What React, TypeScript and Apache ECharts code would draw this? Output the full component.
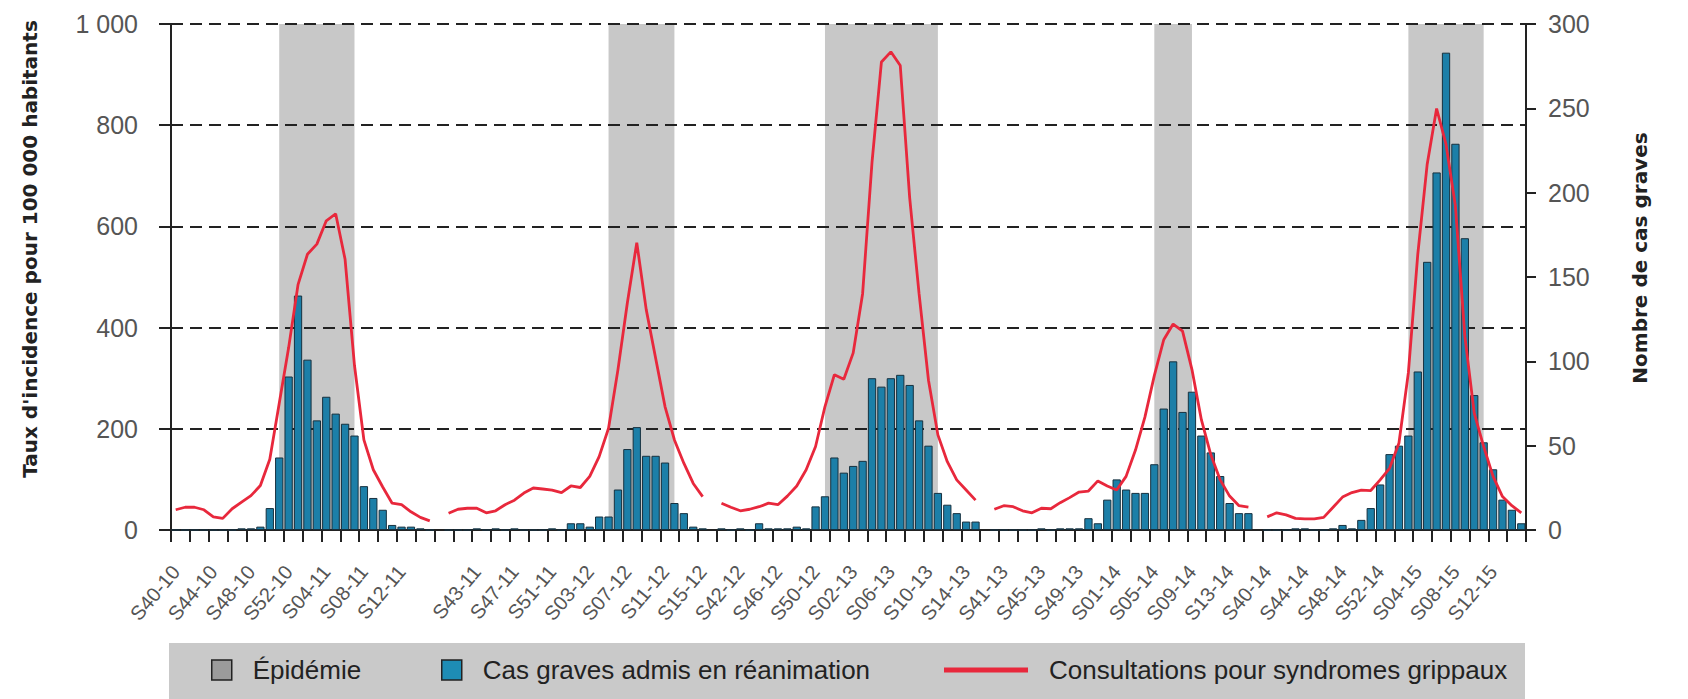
import React, { useEffect, useRef } from 'react';
import * as echarts from 'echarts';

// Weeks of each winter season (S40 of year N to S15 of year N+1)
const WEEKS = [40, 41, 42, 43, 44, 45, 46, 47, 48, 49, 50, 51, 52, 1, 2, 3, 4, 5, 6, 7, 8, 9, 10, 11, 12, 13, 14, 15];
const SEASON_YEARS = [10, 11, 12, 13, 14];

// Cas graves admis en réanimation (right axis)
const cas2010 = [0, 0, 0, 0, 0, 0, 0, 1, 1, 2, 13, 43, 91, 139, 101, 65, 79, 69, 63, 56, 26, 19, 12, 3, 2, 2, 1, 0];
const cas2011 = [0, 0, 0, 1, 0, 1, 0, 1, 0, 0, 0, 1, 0, 4, 4, 2, 8, 8, 24, 48, 61, 44, 44, 40, 16, 10, 2, 1];
const cas2012 = [1, 0, 1, 0, 4, 1, 1, 1, 2, 1, 14, 20, 43, 34, 38, 41, 90, 85, 90, 92, 86, 65, 50, 22, 15, 10, 5, 5];
const cas2013 = [0, 0, 0, 0, 0, 1, 0, 1, 1, 1, 7, 4, 18, 30, 24, 22, 22, 39, 72, 100, 70, 82, 56, 46, 32, 16, 10, 10];
const cas2014 = [0, 0, 0, 1, 1, 0, 0, 1, 3, 1, 6, 13, 27, 45, 50, 56, 94, 159, 212, 283, 229, 173, 80, 52, 36, 18, 12, 4];

// Consultations pour syndromes grippaux, taux pour 100 000 habitants (left axis)
const consult2010 = [40, 45, 45, 40, 26, 23, 42, 55, 68, 88, 140, 250, 360, 485, 545, 565, 611, 625, 535, 325, 178, 119, 85, 53, 50, 36, 25, 18];
const consult2011 = [33, 41, 43, 43, 34, 38, 50, 59, 73, 83, 81, 79, 74, 87, 84, 106, 145, 201, 317, 449, 568, 436, 340, 244, 178, 132, 92, 66];
const consult2012 = [53, 45, 38, 41, 46, 53, 50, 67, 87, 119, 165, 244, 307, 298, 350, 467, 727, 925, 945, 918, 657, 467, 296, 188, 135, 99, 79, 59];
const consult2013 = [41, 48, 46, 38, 34, 43, 42, 54, 64, 75, 77, 97, 87, 79, 106, 158, 223, 305, 376, 407, 393, 317, 218, 149, 99, 67, 48, 45];
const consult2014 = [26, 34, 30, 23, 22, 22, 25, 45, 65, 74, 79, 78, 99, 122, 172, 311, 545, 723, 833, 762, 640, 383, 231, 165, 106, 66, 48, 34];

// Périodes d'épidémie (début, fin)
const epidemicStart = ['S51-10', 'S05-12', 'S51-12', 'S05-14', 'S03-15'];
const epidemicEnd = ['S07-11', 'S12-12', 'S11-13', 'S09-14', 'S11-15'];

const casSeasons = [cas2010, cas2011, cas2012, cas2013, cas2014];
const consultSeasons = [consult2010, consult2011, consult2012, consult2013, consult2014];

const SANS = "'Liberation Sans', Arial, sans-serif";
const TITLE_FONT = "'DejaVu Sans', 'Liberation Sans', sans-serif";

const categories: string[] = [];
const casData: (number | null)[] = [];
const consultData: (number | null)[] = [];
SEASON_YEARS.forEach((y, k) => {
  WEEKS.forEach((w, j) => {
    const yy = w >= 40 ? y : y + 1;
    categories.push(`S${String(w).padStart(2, '0')}-${yy}`);
    casData.push(casSeasons[k][j]);
    consultData.push(consultSeasons[k][j]);
  });
  if (k < SEASON_YEARS.length - 1) {
    categories.push(' '.repeat(k + 1));
    casData.push(null);
    consultData.push(null);
  }
});

const RED = '#e8283c';
const LEGEND_TEXT = { fontFamily: SANS, fontSize: 26, color: '#222', padding: [0, 0, 0, 16] };

export default function App() {
  const ref = useRef<HTMLDivElement>(null);
  useEffect(() => {
    document.body.style.margin = '0';
    if (!ref.current) return;
    const chart = echarts.init(ref.current, null, { renderer: 'svg' });
    const fmt = (v: number) => String(v).replace(/\B(?=(\d{3})+(?!\d))/g, ' ');
    chart.setOption({
      animation: false,
      backgroundColor: '#ffffff',
      grid: { left: 171, right: 162, top: 24, bottom: 169, containLabel: false, outerBoundsMode: 'none' },
      graphic: [
        {
          type: 'rect',
          silent: true,
          z: 0,
          shape: { x: 169, y: 643, width: 1356, height: 56 },
          style: { fill: '#c9c9c9' },
        },
      ],
      legend: [
        {
          left: 206,
          top: 652,
          itemWidth: 20,
          itemHeight: 20,
          selectedMode: false,
          textStyle: LEGEND_TEXT,
          data: [{ name: 'Épidémie', icon: 'rect', itemStyle: { color: '#9b9b9b', borderColor: '#222', borderWidth: 1.5 } }],
        },
        {
          left: 436,
          top: 652,
          itemWidth: 20,
          itemHeight: 20,
          selectedMode: false,
          textStyle: LEGEND_TEXT,
          data: [
            {
              name: 'Cas graves admis en réanimation',
              icon: 'rect',
              itemStyle: { color: '#1e8db5', borderColor: '#222', borderWidth: 1.5 },
            },
          ],
        },
        {
          left: 939,
          top: 652,
          itemWidth: 84,
          itemHeight: 5,
          selectedMode: false,
          textStyle: LEGEND_TEXT,
          data: [{ name: 'Consultations pour syndromes grippaux', icon: 'rect', itemStyle: { color: RED } }],
        },
      ],
      xAxis: {
        type: 'category',
        data: categories,
        boundaryGap: true,
        z: 2,
        axisLine: { show: true, lineStyle: { color: '#222', width: 2 } },
        axisTick: { show: true, interval: 1, length: 12, lineStyle: { color: '#222', width: 2 } },
        axisLabel: {
          interval: 3,
          rotate: 50,
          margin: 38,
          color: '#555',
          fontFamily: SANS,
          fontSize: 20,
        },
        splitLine: { show: false },
      },
      yAxis: [
        {
          type: 'value',
          position: 'left',
          min: 0,
          max: 1000,
          interval: 200,
          z: 2,
          name: "Taux d'incidence pour 100 000 habitants",
          nameLocation: 'middle',
          nameRotate: 90,
          nameGap: 131,
          nameTextStyle: {
            fontFamily: TITLE_FONT,
            fontWeight: 'bold',
            fontSize: 20,
            color: '#222',
            padding: [0, 0, 0, 56],
          },
          axisLine: { show: true, lineStyle: { color: '#222', width: 2 } },
          axisTick: { show: true, length: 12, lineStyle: { color: '#222', width: 2 } },
          axisLabel: { margin: 33, color: '#555', fontFamily: SANS, fontSize: 25, formatter: fmt },
          splitLine: { show: true, lineStyle: { type: [12, 7], color: '#222', width: 2 } },
        },
        {
          type: 'value',
          position: 'right',
          min: 0,
          max: 300,
          interval: 50,
          z: 2,
          name: 'Nombre de cas graves',
          nameLocation: 'middle',
          nameRotate: 90,
          nameGap: 104,
          nameTextStyle: {
            fontFamily: TITLE_FONT,
            fontWeight: 'bold',
            fontSize: 20,
            color: '#222',
            padding: [0, 0, 0, 38],
          },
          axisLine: { show: true, lineStyle: { color: '#222', width: 2 } },
          axisTick: { show: true, length: 10, lineStyle: { color: '#222', width: 2 } },
          axisLabel: { margin: 22, color: '#555', fontFamily: SANS, fontSize: 25 },
          splitLine: { show: false },
        },
      ],
      series: [
        {
          name: 'Épidémie',
          type: 'line',
          data: [],
          yAxisIndex: 0,
          z: 1,
          symbol: 'none',
          itemStyle: { color: '#9b9b9b' },
          lineStyle: { width: 0 },
          markArea: {
            silent: true,
            itemStyle: { color: '#c8c8c8' },
            data: epidemicStart.map((s, i) => [{ xAxis: s }, { xAxis: epidemicEnd[i] }]),
          },
        },
        {
          name: 'Cas graves admis en réanimation',
          type: 'bar',
          yAxisIndex: 1,
          data: casData,
          barCategoryGap: '12%',
          z: 3,
          itemStyle: { color: '#1c7fa8', borderColor: '#17313f', borderWidth: 1 },
        },
        {
          name: 'Consultations pour syndromes grippaux',
          type: 'line',
          yAxisIndex: 0,
          data: consultData,
          symbol: 'none',
          connectNulls: false,
          z: 4,
          itemStyle: { color: RED },
          lineStyle: { color: RED, width: 2.8 },
        },
      ],
    });
    return () => chart.dispose();
  }, []);
  return <div ref={ref} style={{ width: 1688, height: 699 }} />;
}
